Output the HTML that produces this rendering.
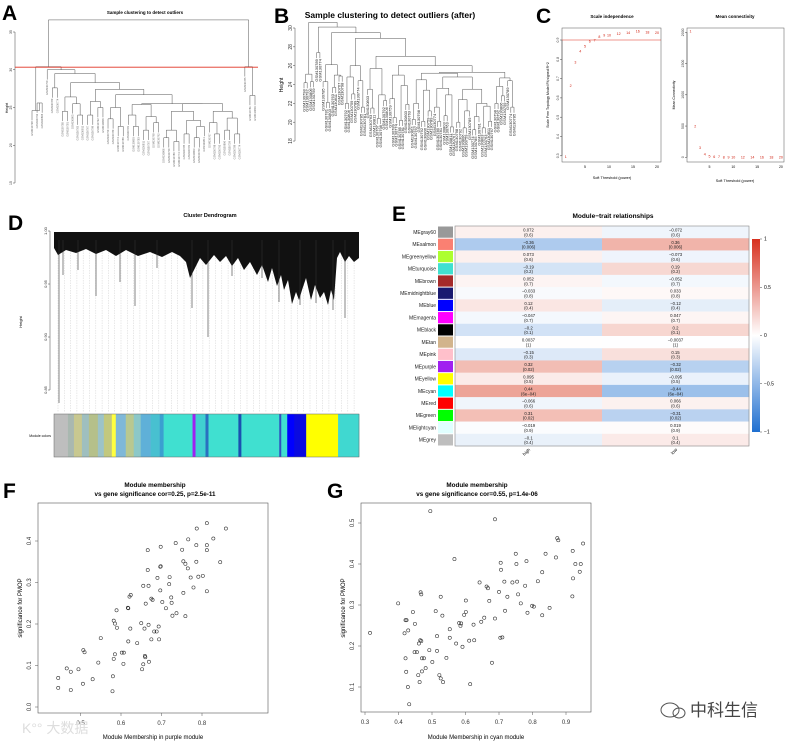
<!DOCTYPE html>
<html><head><meta charset="utf-8"><style>
html,body{margin:0;padding:0;background:#fff;}
svg{display:block;font-family:"Liberation Sans","Noto Sans CJK SC",sans-serif;}
</style></head><body>
<svg id="fig" width="788" height="743" viewBox="0 0 788 743" xmlns="http://www.w3.org/2000/svg">
<rect x="0" y="0" width="788" height="743" fill="#fff"/>
<defs>
<linearGradient id="cbar" x1="0" y1="0" x2="0" y2="1">
<stop offset="0" stop-color="#d7301f"/><stop offset="0.5" stop-color="#ffffff"/><stop offset="1" stop-color="#1f6fd0"/>
</linearGradient>
</defs>
<g font-weight="bold" font-size="21" fill="#000">
<text x="2" y="20">A</text>
<text x="274" y="23">B</text>
<text x="536" y="23">C</text>
<text x="8" y="230">D</text>
<text x="392" y="221">E</text>
<text x="3" y="498">F</text>
<text x="327" y="498">G</text>
</g>
<text x="145" y="14" font-size="4.5" font-weight="bold" text-anchor="middle">Sample clustering to detect outliers</text>
<text x="390" y="18" font-size="8.5" font-weight="bold" text-anchor="middle">Sample clustering to detect outliers (after)</text>
<text x="612" y="18" font-size="4.5" font-weight="bold" text-anchor="middle">Scale independence</text>
<text x="735" y="18" font-size="4.5" font-weight="bold" text-anchor="middle">Mean connectivity</text>
<text x="210" y="217" font-size="5.5" font-weight="bold" text-anchor="middle">Cluster Dendrogram</text>
<text x="613" y="218" font-size="6.5" font-weight="bold" text-anchor="middle">Module−trait relationships</text>
<g font-size="6.3" font-weight="bold" text-anchor="middle">
<text x="155" y="487">Module membership</text>
<text x="155" y="496">vs gene significance cor=0.25, p=2.5e-11</text>
<text x="477" y="487">Module membership</text>
<text x="477" y="496">vs gene significance cor=0.55, p=1.4e-06</text>
</g>
<g id="A"></g><g id="B"></g><g id="C"></g><g id="D"></g><g id="E"></g><g id="F"></g><g id="G"></g>
<text x="22" y="733" font-size="14" fill="#ddd">K°° 大数据</text>
<g>
<ellipse cx="670" cy="710" rx="9" ry="7" fill="none" stroke="#555" stroke-width="1"/>
<ellipse cx="679" cy="713" rx="6" ry="5" fill="none" stroke="#555" stroke-width="1"/>
</g>
<text x="690" y="716" font-size="17" fill="#444">中科生信</text>
</svg>
<script>
const NS='http://www.w3.org/2000/svg';
function mk(tag,attrs,parent){const e=document.createElementNS(NS,tag);for(const k in attrs)e.setAttribute(k,attrs[k]);parent.appendChild(e);return e;}

// ===== data =====
const treeA=[36.6,[30.4,[24.6,0,[25.6,0,0]],[30.0,0,[29.5,[27.6,0,0],[28.3,[26.4,[24.5,0,0],[25.5,0,[24,0,0]]],[27.4,[25.8,[24,0,0],[25,0,0]],[26.7,[25,[23.5,0,0],[22.5,0,0]],[25.5,[25.4,[24,0,[22.5,0,0]],[23.8,[22,0,0],[23,0,0]]],[25.5,[24.5,[22,[21,0,0],[20.5,0,0]],[23.3,[21.5,0,0],[22.5,[21,0,0],0]]],[24.5,[23,0,[21.5,0,0]],[23.6,[22,0,0],[21.5,0,0]]]]]]]]]]],[30.4,0,[26.6,0,0]]];
const treeB=[30.6,[25.1,[24.2,0,0],[24.3,0,0]],[30.1,[27.4,0,0],[29.5,[26.1,[24.3,0,[22.1,0,0]],[25.0,[23.7,0,0],[24.9,0,0]]],[28.9,[26.0,[24.8,[22.0,0,0],[23.0,0,0]],[24.4,0,[21.6,0,0]]],[27.0,[25.7,[23.5,0,[21.5,0,0]],[22.9,[20.4,0,0],[22.3,0,0]]],[26.0,[25.0,[22.5,0,[20.5,0,0]],[23.9,[20.2,0,0],[21.9,0,0]]],[25.3,[25.2,[24.5,[22.0,[20.3,0,0],0],[23.4,[20.1,0,0],[21.2,0,0]]],[24.8,[23.6,[21.6,0,[20.1,0,0]],[22.9,[20.7,0,0],[19.5,0,0]]],[23.5,[22.4,[20.0,0,0],[21.2,[19.4,0,0],0]],[22.0,[20.6,[19.2,0,0],0],[21.7,[19.4,0,0],[20.1,0,0]]]]]],[24.7,[23.8,[22.0,0,0],[22.8,0,0]],[24.4,0,[21.6,0,0]]]]]]]]]];
const sampleIds=['GSM130767','GSM130785','GSM130792','GSM130803','GSM130759','GSM130811','GSM130774','GSM130798','GSM130781','GSM130806','GSM130763','GSM130789'];
const powers=[1,2,3,4,5,6,7,8,9,10,12,14,16,18,20];
const fitR2=[0.295,0.662,0.784,0.843,0.869,0.893,0.900,0.917,0.924,0.924,0.933,0.939,0.945,0.940,0.939];
const meanK=[2020,500,155,48,20,10,6,4,3,2,2,2,1,1,1];
const modColors=['#999999','#fa8072','#adff2f','#40e0d0','#a52a2a','#191970','#0000ff','#ff00ff','#000000','#d2b48c','#ffc0cb','#a020f0','#ffff00','#00ffff','#ff0000','#00ff00','#e0ffff','#bebebe'];
const modNames=['MEgray60','MEsalmon','MEgreenyellow','MEturquoise','MEbrown','MEmidnightblue','MEblue','MEmagenta','MEblack','MEtan','MEpink','MEpurple','MEyellow','MEcyan','MEred','MEgreen','MElightcyan','MEgrey'];
const corHigh=[0.072,-0.36,0.073,-0.19,0.052,-0.033,0.12,-0.047,-0.2,0.0037,-0.15,0.32,0.095,0.44,-0.066,0.31,-0.019,-0.1];
const pVals=['0.6','0.006','0.6','0.2','0.7','0.8','0.4','0.7','0.1','1','0.3','0.02','0.5','6e−04','0.6','0.02','0.9','0.4'];
const traits=['high','low'];
const barColors=['#bebebe','#a9b8b0','#c8c890','#9fbfbf','#b5c08a','#9cc3c8','#c2c87e','#ffff40','#7fb8d8','#b9c890','#8cc8c8','#5fb0d8','#48c0d0','#3aa0d0','#40e0d0','#a020f0','#40d0d0','#2a70c0','#40e0d0','#1a50b0','#40e0d0','#3050c0','#40e0d0','#0000ff','#0a0ae0','#ffff00','#40d8d0'];
const barWidths=[14,6,8,7,9,6,8,4,10,8,7,10,9,4,29,3,10,3,30,3,38,2,6,7,12,32,21];
const fX=[.445,.466,.476,.495,.507,.510,.506,.530,.544,.550,.445,.476,.580,.579,.582,.585,.589,.590,.585,.582,.602,.607,.606,.617,.618,.621,.624,.623,.618,.640,.650,.652,.655,.660,.659,.669,.658,.668,.675,.682,.688,.693,.694,.666,.666,.655,.668,.661,.675,.678,.690,.697,.698,.697,.702,.711,.698,.720,.727,.737,.719,.725,.724,.735,.751,.754,.759,.765,.766,.772,.754,.759,.779,.787,.786,.791,.802,.786,.812,.812,.812,.812,.828,.845,.859];
const fY=[.046,.093,.085,.091,.137,.132,.056,.067,.107,.166,.070,.041,.074,.038,.208,.201,.233,.191,.127,.116,.131,.131,.104,.239,.238,.266,.270,.189,.158,.154,.202,.091,.103,.120,.123,.109,.189,.198,.163,.182,.182,.194,.163,.378,.330,.292,.292,.249,.261,.258,.311,.338,.339,.281,.253,.238,.386,.313,.220,.226,.296,.251,.264,.395,.379,.351,.345,.334,.404,.312,.275,.219,.288,.430,.390,.314,.316,.350,.443,.390,.378,.279,.406,.349,.430];
const gX=[.495,.688,.874,.877,.951,.920,.750,.839,.567,.705,.752,.782,.870,.928,.944,.706,.829,.941,.921,.642,.716,.740,.754,.663,.667,.778,.816,.466,.468,.526,.700,.725,.757,.919,.399,.601,.671,.765,.799,.804,.851,.443,.511,.531,.596,.601,.718,.785,.829,.421,.424,.449,.656,.688,.647,.624,.581,.587,.585,.553,.429,.418,.515,.553,.704,.710,.465,.468,.611,.626,.461,.572,.591,.448,.455,.492,.515,.470,.476,.421,.543,.501,.679,.481,.423,.470,.459,.522,.526,.533,.463,.614,.428,.432,.315];
const gY=[.529,.509,.463,.458,.450,.432,.425,.425,.412,.403,.400,.407,.416,.400,.400,.386,.380,.381,.365,.355,.357,.355,.357,.345,.341,.347,.358,.331,.326,.320,.332,.320,.326,.321,.304,.311,.310,.304,.298,.296,.293,.283,.285,.274,.276,.283,.286,.281,.275,.263,.263,.254,.269,.267,.259,.252,.256,.255,.249,.241,.238,.231,.224,.220,.220,.221,.214,.212,.213,.214,.206,.206,.198,.185,.185,.190,.188,.170,.170,.170,.171,.161,.159,.146,.137,.138,.129,.129,.121,.112,.112,.107,.100,.058,.232];
const fXTicks=[0.5,0.6,0.7,0.8], fYTicks=[0,0.1,0.2,0.3,0.4];
const gXTicks=[0.3,0.4,0.5,0.6,0.7,0.8,0.9], gYTicks=[0.1,0.2,0.3,0.4,0.5];

// ===== dendrogram helper =====
function countLeaves(n){return n===0?1:countLeaves(n[1])+countLeaves(n[2]);}
function drawTree(g,tree,x0,x1,yMap,hang,fs,labelCol,name){
  const n=countLeaves(tree),step=(x1-x0)/(n-1);let i=0;
  function rec(node){
    if(node===0){const x=x0+i*step;i++;return x;}
    const h=node[0],xs=[];
    for(const c of [node[1],node[2]]){
      const xc=rec(c);xs.push(xc);
      const yb=c===0?yMap(h-hang):yMap(c[0]);
      const l=mk('line',{x1:xc,x2:xc,y1:yMap(h),y2:yb,stroke:'#555','stroke-width':0.5},g);
      
      
      if(c===0){
        const t=mk('text',{x:0,y:0,'font-size':fs,fill:labelCol,'text-anchor':'end',transform:`translate(${xc+fs*0.35},${yb+1}) rotate(-90)`},g);
        t.textContent=sampleIds[(i*7)%sampleIds.length];
        
        
      }
    }
    const hl=mk('line',{x1:xs[0],x2:xs[1],y1:yMap(h),y2:yMap(h),stroke:'#555','stroke-width':0.5},g);
    
    
    return (xs[0]+xs[1])/2;
  }
  rec(tree);
}
function axisY(g,x,ticks,map,fs,name,fmt){
  const a=mk('line',{x1:x,x2:x,y1:map(ticks[0]),y2:map(ticks[ticks.length-1]),stroke:'#444','stroke-width':0.5},g);
  
  
  ticks.forEach(v=>{
    const tk=mk('line',{x1:x-2,x2:x,y1:map(v),y2:map(v),stroke:'#444','stroke-width':0.5},g);
    
    
    const t=mk('text',{x:0,y:0,'font-size':fs,'text-anchor':'middle',fill:'#333',transform:`translate(${x-3},${map(v)}) rotate(-90)`},g);
    t.textContent=fmt?fmt(v):v;
    
    
  });
}

// ===== A =====
(function(){
  const g=document.getElementById('A');
  const yA=h=>183-(h-15)*7.55;
  axisY(g,15,[15,20,25,30,35],yA,3.5,'panel-a-y');
  const yl=mk('text',{x:0,y:0,'font-size':3.5,'text-anchor':'middle',transform:'translate(8,108) rotate(-90)'},g);
  yl.textContent='Height';
  
  
  drawTree(g,treeA,32,255,yA,1.3,2.6,'#666','panel-a');
  const cut=mk('line',{x1:15,x2:258,y1:yA(30.4)+0.5,y2:yA(30.4)+0.5,stroke:'#e03020','stroke-width':0.9},g);
  
  
})();

// ===== B =====
(function(){
  const g=document.getElementById('B');
  const yB=h=>28+(30-h)*9.42;
  axisY(g,295,[18,20,22,24,26,28,30],yB,5,'panel-b-y');
  const yl=mk('text',{x:0,y:0,'font-size':5,'text-anchor':'middle',transform:'translate(283,85) rotate(-90)'},g);
  yl.textContent='Height';
  
  
  drawTree(g,treeB,304,514,yB,0.6,4,'#222','panel-b');
})();

// ===== C =====
(function(){
  const g=document.getElementById('C');
  const xL=p=>561+p*4.8, yL=v=>40+(0.9-v)*193;
  const b1=mk('rect',{x:562,y:28,width:99,height:134,fill:'none',stroke:'#555','stroke-width':0.5},g);
  
  
  axisY(g,562,[0.3,0.4,0.5,0.6,0.7,0.8,0.9],yL,3.5,'scale-independence-y');
  [5,10,15,20].forEach(v=>{
    const t=mk('text',{x:xL(v),y:168,'font-size':3.5,'text-anchor':'middle'},g);t.textContent=v;
    
    
  });
  const rl=mk('line',{x1:562,x2:661,y1:yL(0.9),y2:yL(0.9),stroke:'#e03020','stroke-width':0.6},g);
  
  
  powers.forEach((p,i)=>{
    const t=mk('text',{x:xL(p),y:yL(fitR2[i])+1.3,'font-size':3.6,fill:'#d02010','text-anchor':'middle'},g);t.textContent=p;
    
    
  });
  const xt=mk('text',{x:612,y:179,'font-size':3.8,'text-anchor':'middle'},g);xt.textContent='Soft Threshold (power)';
  
  
  const yt=mk('text',{x:0,y:0,'font-size':3.5,'text-anchor':'middle',transform:'translate(549,95) rotate(-90)'},g);yt.textContent='Scale Free Topology Model Fit,signed R^2';
  
  

  const xR=p=>685.7+p*4.76, yR=v=>157.3-v*0.0625;
  const b2=mk('rect',{x:687,y:28,width:97,height:134,fill:'none',stroke:'#555','stroke-width':0.5},g);
  
  
  axisY(g,687,[0,500,1000,1500,2000],yR,3.5,'mean-connectivity-y');
  [5,10,15,20].forEach(v=>{
    const t=mk('text',{x:xR(v),y:168,'font-size':3.5,'text-anchor':'middle'},g);t.textContent=v;
    
    
  });
  powers.forEach((p,i)=>{
    const t=mk('text',{x:xR(p),y:yR(meanK[i])+1.3,'font-size':3.6,fill:'#d02010','text-anchor':'middle'},g);t.textContent=p;
    
    
  });
  const xt2=mk('text',{x:735,y:182,'font-size':3.8,'text-anchor':'middle'},g);xt2.textContent='Soft Threshold (power)';
  
  
  const yt2=mk('text',{x:0,y:0,'font-size':3.5,'text-anchor':'middle',transform:'translate(675,95) rotate(-90)'},g);yt2.textContent='Mean Connectivity';
  
  
})();

// ===== D =====
(function(){
  const g=document.getElementById('D');
  const yD=v=>231+(1-v)*1060;
  for(let x=58;x<358;x+=6.3){
    const l=mk('line',{x1:x,x2:x,y1:240,y2:412,stroke:'#c8c8c8','stroke-width':0.4,'stroke-dasharray':'1.5,1'},g);
    
    
  }
  const env='M54,232 L359,232 L359,258 L354,262 L349,256 L345,262 L340,252 L337,258 L334,300 L331,290 L328,305 L324,292 L320,298 L315,285 L311,300 L306,278 L302,290 L299,300 L296,292 L292,304 L288,280 L284,290 L281,275 L277,286 L272,268 L268,282 L262,265 L257,275 L250,262 L244,270 L238,258 L232,266 L226,256 L220,262 L214,255 L206,265 L200,258 L194,270 L190,278 L186,262 L180,256 L172,252 L162,257 L150,252 L138,256 L126,250 L116,256 L106,250 L96,254 L86,249 L76,253 L66,250 L58,255 L54,248 Z';
  const p=mk('path',{d:env,fill:'#111'},g);
  
  
  [[59,403],[63,275],[78,270],[96,296],[120,282],[135,306],[157,268],[192,308],[208,337],[232,276],[262,278],[279,302],[300,305],[316,303],[333,310],[345,318]].forEach(d=>{
    const l=mk('line',{x1:d[0],x2:d[0],y1:240,y2:d[1],stroke:'#333','stroke-width':0.6},g);
    
    
  });
  axisY(g,50,[0.85,0.90,0.95,1.00],yD,4,'dendrogram-y',v=>v.toFixed(2));
  const yt=mk('text',{x:0,y:0,'font-size':4,'text-anchor':'middle',transform:'translate(22,322) rotate(-90)'},g);yt.textContent='Height';
  
  
  const total=barWidths.reduce((a,b)=>a+b,0);let x=54;
  barColors.forEach((c,i)=>{
    const w=barWidths[i]/total*305;
    const r=mk('rect',{x:x,y:414,width:w+0.3,height:43,fill:c},g);
    
    
    x+=w;
  });
  const fr=mk('rect',{x:54,y:414,width:305,height:43,fill:'none',stroke:'#666','stroke-width':0.5},g);
  
  
  const ml=mk('text',{x:51,y:437,'font-size':3.5,'text-anchor':'end'},g);ml.textContent='Module colors';
  
  
})();

// ===== E =====
(function(){
  const g=document.getElementById('E');
  const x0=455,x1=749,y0=226,rh=(446-226)/18,cw=(x1-x0)/2;
  function col(v){const t=Math.min(1,Math.abs(v));const c=v>=0?[215,48,20]:[31,111,208];
    return `rgb(${Math.round(255+(c[0]-255)*t)},${Math.round(255+(c[1]-255)*t)},${Math.round(255+(c[2]-255)*t)})`;}
  const fmt=v=>String(v).replace('-','−');
  modNames.forEach((nm,i)=>{
    const y=y0+i*rh;
    const sq=mk('rect',{x:438,y:y+0.5,width:15,height:rh-1,fill:modColors[i]},g);
    
    
    const lb=mk('text',{x:436,y:y+rh/2+1.8,'font-size':5,'text-anchor':'end',fill:'#222'},g);lb.textContent=nm;
    
    
    [corHigh[i],-corHigh[i]].forEach((v,j)=>{
      const cx=x0+j*cw;
      const c=mk('rect',{x:cx,y:y,width:cw+0.3,height:rh+0.3,fill:col(v)},g);
      
      
      const t1=mk('text',{x:cx+cw/2,y:y+rh/2-0.5,'font-size':4.3,'text-anchor':'middle',fill:'#222'},g);t1.textContent=fmt(v);
      
      
      const t2=mk('text',{x:cx+cw/2,y:y+rh/2+4.3,'font-size':4.3,'text-anchor':'middle',fill:'#222'},g);t2.textContent='('+pVals[i]+')';
      
      
    });
  });
  const fr=mk('rect',{x:x0,y:y0,width:x1-x0,height:220,fill:'none',stroke:'#888','stroke-width':0.6},g);
  
  
  traits.forEach((t,j)=>{
    const e=mk('text',{x:0,y:0,'font-size':4.5,'text-anchor':'end',transform:`translate(${x0+cw*j+cw/2+2},${450}) rotate(-45)`},g);e.textContent=t;
    
    
  });
  const cb=mk('rect',{x:752,y:239,width:8,height:193,fill:'url(#cbar)'},g);
  
  
  [1,0.5,0,-0.5,-1].forEach(v=>{
    const y=335.5-v*96.5;
    const tk=mk('line',{x1:760,x2:762,y1:y,y2:y,stroke:'#444','stroke-width':0.5},g);
    
    
    const t=mk('text',{x:764,y:y+1.7,'font-size':5},g);t.textContent=fmt(v);
    
    
  });
})();

// ===== scatter helper =====
function scatter(g,xs,ys,xMap,yMap,box,xTicks,yTicks,xTitle,name){
  const r=mk('rect',{x:box[0],y:box[1],width:box[2]-box[0],height:box[3]-box[1],fill:'none',stroke:'#555','stroke-width':0.6},g);
  
  
  xTicks.forEach(v=>{
    const tk=mk('line',{x1:xMap(v),x2:xMap(v),y1:box[3],y2:box[3]+3,stroke:'#555','stroke-width':0.5},g);
    
    
    const t=mk('text',{x:xMap(v),y:box[3]+12,'font-size':6,'text-anchor':'middle',fill:'#333'},g);t.textContent=v.toFixed(1);
    
    
  });
  yTicks.forEach(v=>{
    const tk=mk('line',{x1:box[0]-3,x2:box[0],y1:yMap(v),y2:yMap(v),stroke:'#555','stroke-width':0.5},g);
    
    
    const t=mk('text',{x:0,y:0,'font-size':6,'text-anchor':'middle',fill:'#333',transform:`translate(${box[0]-7},${yMap(v)}) rotate(-90)`},g);t.textContent=v.toFixed(1);
    
    
  });
  xs.forEach((v,i)=>{
    const c=mk('circle',{cx:xMap(v),cy:yMap(ys[i]),r:1.6,fill:'none',stroke:'#333','stroke-width':0.6},g);
    
    
  });
  const xt=mk('text',{x:(box[0]+box[2])/2,y:739,'font-size':6,'text-anchor':'middle'},g);xt.textContent=xTitle;
  
  
  const yt=mk('text',{x:0,y:0,'font-size':6,'text-anchor':'middle',transform:`translate(${box[0]-16},608) rotate(-90)`},g);yt.textContent='significance for PMOP';
  
  
}
scatter(document.getElementById('F'),fX,fY,v=>121+(v-0.6)*405,v=>707-v*415,[38,503,268,713],fXTicks,fYTicks,'Module Membership in purple module','purple-module');
scatter(document.getElementById('G'),gX,gY,v=>365+(v-0.3)*335,v=>728-v*410,[361,503,591,712],gXTicks,gYTicks,'Module Membership in cyan module','cyan-module');
</script>
</body></html>
